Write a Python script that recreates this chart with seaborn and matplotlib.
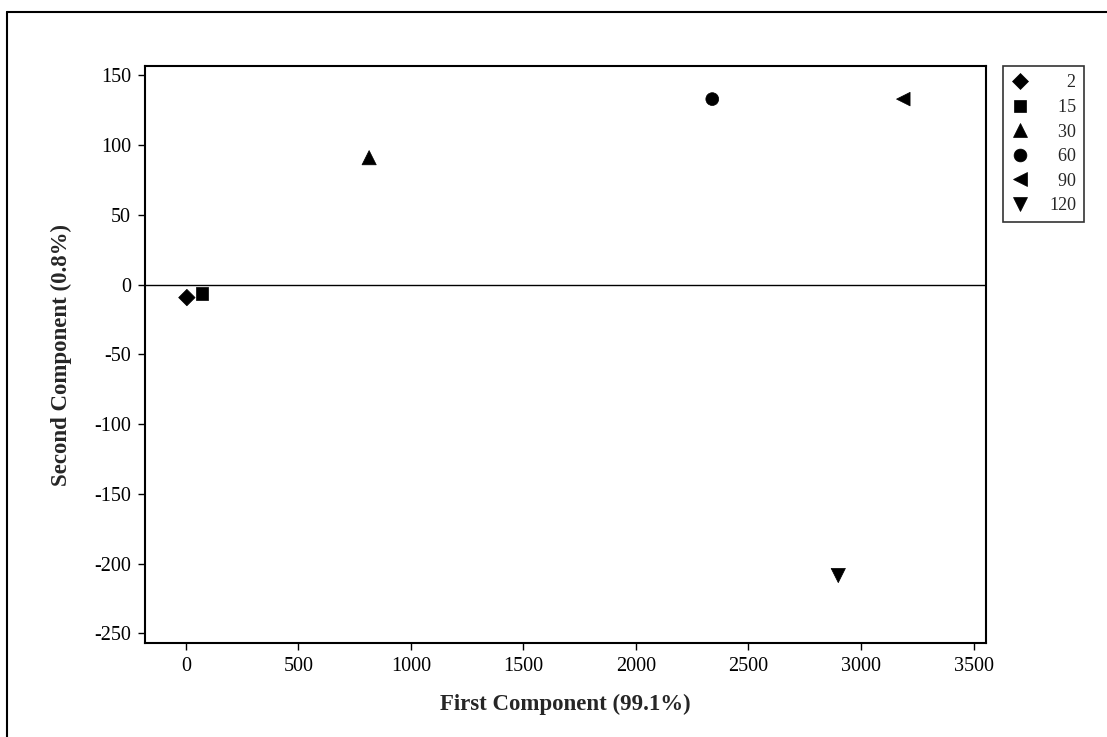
import numpy as np
import pandas as pd
import matplotlib.pyplot as plt
import seaborn as sns
from matplotlib.lines import Line2D

# sample groups and their PCA scores
groups = ["2", "15", "30", "60", "90", "120"]
first_comp = [4, 71, 814, 2339, 3188, 2899]
second_comp = [-9.3, -6.5, 91, 133, 133, -208.6]
group_markers = {"2": "D", "15": "s", "30": "^", "60": "o", "90": "<", "120": "v"}
group_sizes = {"2": 70, "15": 80, "30": 105, "60": 85, "90": 95, "120": 105}

sns.set_style("white")
plt.rcParams['font.family'] = ['Liberation Serif', 'DejaVu Serif']
plt.rcParams['axes.unicode_minus'] = False

df = pd.DataFrame({"group": groups, "pc1": first_comp, "pc2": second_comp})

fig = plt.figure(figsize=(11.07, 7.37), dpi=100)
ax = fig.add_axes([0.131, 0.1275, 0.76, 0.7825])

sns.scatterplot(data=df, x="pc1", y="pc2", style="group", markers=group_markers,
                size="group", sizes=group_sizes, color="black",
                edgecolor="black", linewidth=0.5, ax=ax)

ax.axhline(0, color="black", lw=1, zorder=0)

ax.set_xlim(-182, 3557)
ax.set_ylim(-257, 156.5)
ax.set_xticks(np.arange(0, 3501, 500))
ax.set_yticks(np.arange(-250, 151, 50))
ax.tick_params(axis="both", direction="out", length=5, width=1, colors="black",
               labelsize=14.5, bottom=True, left=True, pad=5)
for sp in ax.spines.values():
    sp.set_color("black")
    sp.set_linewidth(1.5)

ax.set_xlabel("First Component (99.1%)", fontsize=16.5, fontweight="bold", labelpad=13)
ax.set_ylabel("Second Component (0.8%)", fontsize=16.5, fontweight="bold", labelpad=16)

# legend: markers left, labels right aligned (figure spaces pad the short ones)
handles, labels = ax.get_legend_handles_labels()
width = max(len(l) for l in labels)
labels = ["\u2007" * (width - len(l)) + l for l in labels]
leg = ax.legend(handles, labels, loc="upper left", bbox_to_anchor=(1.02, 1.0),
                frameon=True, fancybox=False, edgecolor="black", fontsize=13,
                handletextpad=1.1, labelspacing=0.42, borderpad=0.45,
                handlelength=1.0, borderaxespad=0.0)
leg.get_frame().set_linewidth(1.2)
for h in leg.legend_handles:
    h.set_color("black")

# outer frame of the picture (left and top edges)
fig.add_artist(Line2D([7 / 1107, 7 / 1107], [0, 1 - 12 / 737], color="black", lw=1.5,
                      transform=fig.transFigure))
fig.add_artist(Line2D([7 / 1107, 1], [1 - 12 / 737, 1 - 12 / 737], color="black", lw=1.5,
                      transform=fig.transFigure))

fig.savefig("out.png", dpi=100)
